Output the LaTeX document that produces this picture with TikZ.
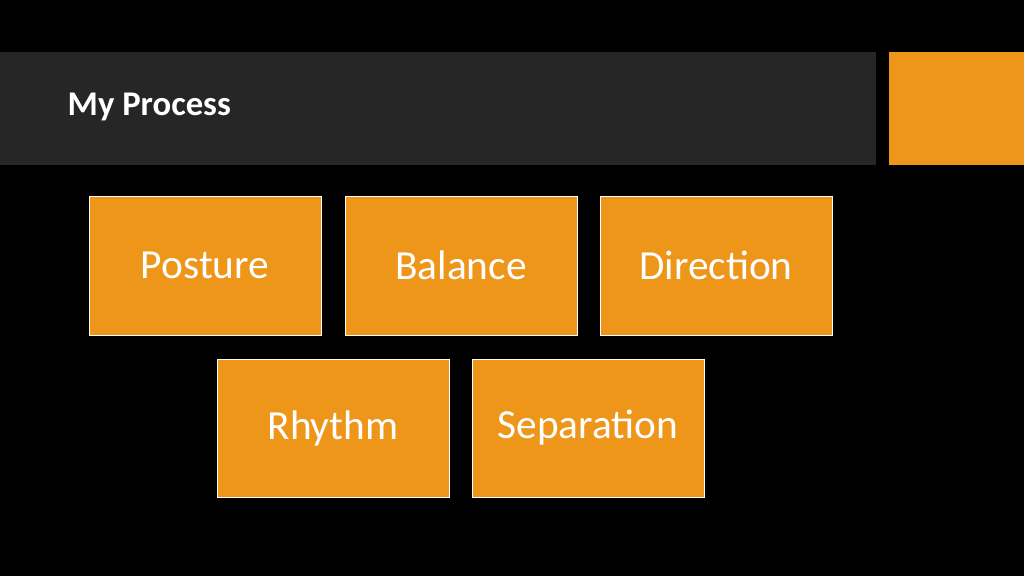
\documentclass[tikz,border=0pt]{standalone}
\usepackage{fontspec}
\setmainfont{Carlito}
\definecolor{org}{HTML}{EE961A}
\definecolor{bar}{HTML}{262626}
\begin{document}
\begin{tikzpicture}[x=0.75pt,y=-0.75pt,
  box/.style={draw=white,line width=0.6pt,fill=org,text=white,font=\fontsize{31}{36}\selectfont}]
\fill[black] (0,0) rectangle (1024,576);
\useasboundingbox (0,0) rectangle (1024,576);
\fill[bar] (0,52) rectangle (876,165);
\fill[org] (889,52) rectangle (1024,165);
\node[anchor=west,text=white,font=\bfseries\fontsize{26}{30}\selectfont] (title) at (63,107) {My Process};
\draw[box] (89,196) rectangle (321,335) node[midway] (p) {Posture};
\draw[box] (345,196) rectangle (577,335) node[midway] (b) {Balance};
\draw[box] (600,196) rectangle (832,335) node[midway] (d) {Direction};
\draw[box] (217,359) rectangle (449,497) node[midway] (r) {Rhythm};
\draw[box] (472,359) rectangle (704,497) node[midway] (s) {Separation};
\end{tikzpicture}
\end{document}
